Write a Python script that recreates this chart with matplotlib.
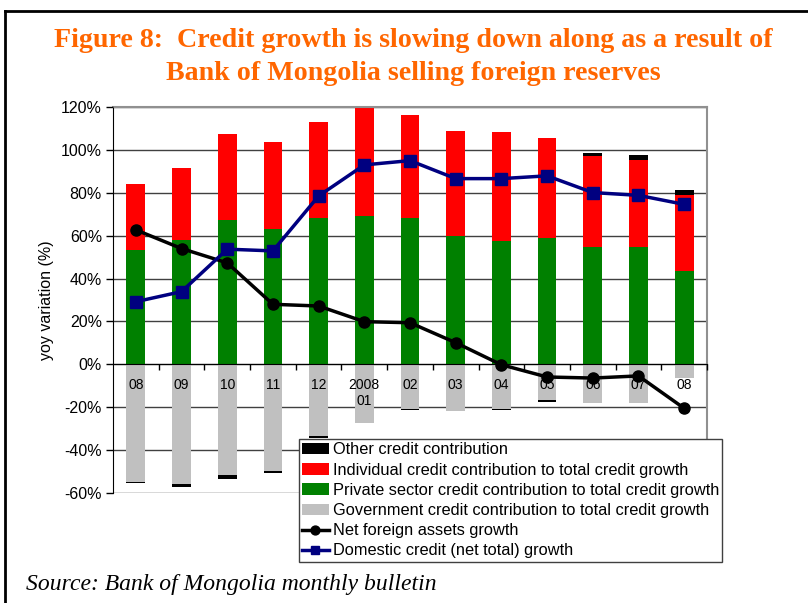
#!/usr/bin/env python3
"""Credit growth contributions vs. NFA growth, Mongolia."""

import numpy as np
import matplotlib
matplotlib.use("Agg")
import matplotlib.pyplot as plt
from matplotlib.lines import Line2D

months = ["08", "09", "10", "11", "12", "2008\n01", "02", "03", "04", "05", "06", "07", "08"]

# contributions to total credit growth, percentage points
government = [-55.0, -55.9, -51.7, -49.7, -33.4, -27.4, -20.8, -21.8, -20.7, -16.6, -17.9, -17.9, -6.4]
private = [53.2, 57.9, 67.2, 63.1, 68.1, 69.1, 68.1, 59.9, 57.5, 58.8, 54.7, 54.7, 43.5]
individual = [30.8, 33.5, 40.1, 40.5, 44.8, 51.9, 48.1, 48.8, 50.7, 46.6, 42.5, 40.6, 35.3]
other = [-0.5, -1.4, -1.7, -1.2, -0.9, 0.0, -0.7, 0.0, -0.8, -0.8, 1.2, 2.2, 2.5]

# growth rates, %
nfa_growth = [62.7, 54.0, 47.3, 28.0, 27.2, 19.9, 19.4, 10.1, -0.2, -5.9, -6.4, -5.4, -20.5]
domestic_growth = [29.2, 33.9, 53.7, 52.9, 78.5, 93.0, 95.0, 86.6, 86.6, 87.9, 80.1, 78.8, 74.6]

FIG_PATH = "out.png"


def main():
    plt.rcParams["font.family"] = ["Liberation Sans", "DejaVu Sans"]
    fig = plt.figure(figsize=(8.08, 6.03), dpi=100)
    W, H = 808, 603
    ax = fig.add_axes([113 / W, 1 - 493 / H, (707 - 113) / W, (493 - 107) / H])

    x = np.arange(len(months))
    gov = np.array(government)
    priv = np.array(private)
    ind = np.array(individual)
    oth = np.array(other)
    width = 0.41

    ax.bar(x, gov, width, color="#C0C0C0", zorder=2,
           label="Government credit contribution to total credit growth")
    ax.bar(x, priv, width, color="#008000", zorder=2,
           label="Private sector credit contribution to total credit growth")
    ax.bar(x, ind, width, bottom=priv, color="#FF0000", zorder=2,
           label="Individual credit contribution to total credit growth")
    oth_bottom = np.where(oth >= 0, priv + ind, gov)
    ax.bar(x, oth, width, bottom=oth_bottom, color="black", zorder=2,
           label="Other credit contribution")

    ax.plot(x, nfa_growth, "-o", color="black", linewidth=2.5, markersize=8,
            zorder=4, label="Net foreign assets growth")
    ax.plot(x, domestic_growth, "-s", color="#000080", linewidth=2.5, markersize=8,
            zorder=4, label="Domestic credit (net total) growth")

    ax.set_xlim(-0.5, len(months) - 0.5)
    ax.set_ylim(-60, 120)
    yticks = np.arange(-60, 121, 20)
    ax.set_yticks(yticks)
    ax.set_yticklabels([f"{v}%" for v in yticks])
    # gridlines behind the bars, tick labels in front of them
    for v in yticks:
        ax.axhline(v, color="#404040", linewidth=1, zorder=1)
    ax.set_axisbelow(False)

    ax.set_xticks(np.arange(len(months)) + 0.5)
    ax.set_xticklabels([])
    ax.set_xticks(x, minor=True)
    ax.set_xticklabels(months, minor=True, fontsize=11.5, linespacing=1.0, va="top")
    ax.tick_params(axis="x", which="major", direction="out", length=4, width=1)
    ax.tick_params(axis="x", which="minor", length=0, pad=10)
    ax.tick_params(axis="y", direction="out", length=5, width=1, labelsize=11.5, pad=3)

    ax.spines["bottom"].set_position(("data", 0))
    ax.spines["left"].set_color("black")
    ax.spines["top"].set_color("#909090")
    ax.spines["right"].set_color("#909090")
    ax.spines["top"].set_linewidth(1.5)
    ax.spines["right"].set_linewidth(1.5)

    fig.text(47 / W, 0.5 * ((1 - 107 / H) + (1 - 493 / H)), "yoy variation (%)",
             rotation=90, ha="center", va="center", fontsize=11.5)

    # legend in Excel order: last stacked series first
    handles, labels = ax.get_legend_handles_labels()
    order = [labels.index(l) for l in [
        "Other credit contribution",
        "Individual credit contribution to total credit growth",
        "Private sector credit contribution to total credit growth",
        "Government credit contribution to total credit growth",
        "Net foreign assets growth",
        "Domestic credit (net total) growth"]]
    leg = fig.legend([handles[i] for i in order], [labels[i] for i in order],
                     loc="upper left", bbox_to_anchor=(299 / W, 1 - 439 / H),
                     fontsize=11.8, frameon=True, fancybox=False, framealpha=1,
                     edgecolor="#404040", borderpad=0.2, labelspacing=0.32,
                     handlelength=1.6, handletextpad=0.25, borderaxespad=0,
                     markerscale=0.8)
    leg.get_frame().set_linewidth(1)
    leg.set_zorder(10)

    title_font = dict(family=["Liberation Serif"], fontweight="bold", fontsize=20.2,
                      color="#FF6600", ha="center", va="baseline")
    fig.text(413 / W, 1 - 47 / H, "Figure 8:  Credit growth is slowing down along as a result of",
             **title_font)
    fig.text(413 / W, 1 - 80 / H, "Bank of Mongolia selling foreign reserves", **title_font)

    fig.text(26 / W, 1 - 590 / H, "Source: Bank of Mongolia monthly bulletin",
             family=["Liberation Serif"], style="italic", fontsize=17, va="baseline")

    # outer frame (left and top edges visible in the crop)
    fig.add_artist(Line2D([5 / W, 5 / W], [0, 1 - 11 / H], color="black", linewidth=2))
    fig.add_artist(Line2D([5 / W, 1], [1 - 11 / H, 1 - 11 / H], color="black", linewidth=2))

    fig.savefig(FIG_PATH, dpi=100, facecolor="white")


if __name__ == "__main__":
    main()
